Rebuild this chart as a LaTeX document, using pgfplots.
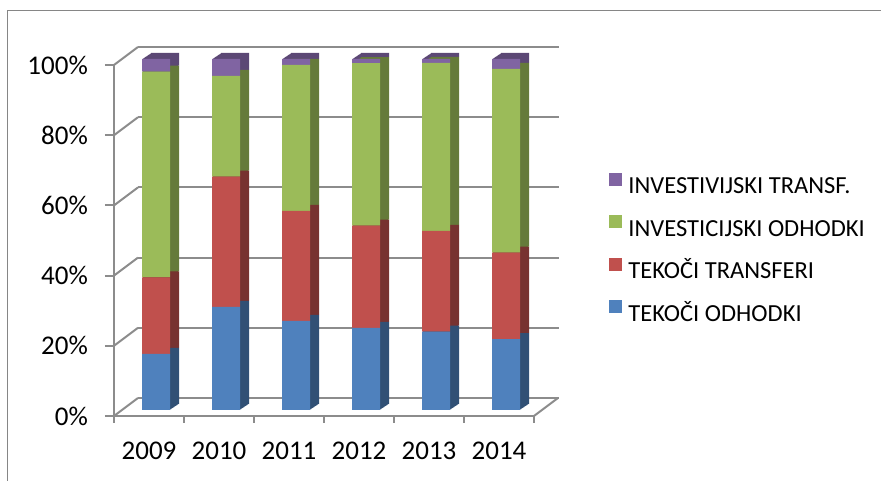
\documentclass[border=0pt]{standalone}
\usepackage{pgfplots}
\pgfplotsset{compat=1.18}
\usepackage{pgfplotstable}
\usepackage{fontspec}
\setmainfont{Carlito}

\definecolor{cB}{HTML}{4F81BD}
\definecolor{cR}{HTML}{C0504D}
\definecolor{cG}{HTML}{9BBB59}
\definecolor{cP}{HTML}{8064A2}
\definecolor{cBs}{RGB}{49,80,117}
\definecolor{cRs}{RGB}{119,50,48}
\definecolor{cGs}{RGB}{101,122,58}
\definecolor{cPs}{RGB}{92,72,117}
\definecolor{gridc}{HTML}{8C8C8C}
\definecolor{framec}{HTML}{868686}

\pgfplotstableread{
year blue red green purple
0 16.0 21.8 58.6 3.6
1 29.4 37.1 28.7 4.8
2 25.4 31.3 41.6 1.7
3 23.4 29.1 46.3 1.2
4 22.3 28.7 47.9 1.1
5 20.2 24.6 52.4 2.8
}\datatable

\pgfplotsset{
  barbase/.style={scale only axis, width=420pt, height=351pt,
    xmin=-0.5, xmax=5.5, ymin=0, ymax=100, hide axis,
    ybar stacked, bar width=28pt, bar shift=0pt, clip=false,
    anchor=south west},
}

\begin{document}
\begin{tikzpicture}[x=1pt,y=1pt]
\path[use as bounding box] (0,0) rectangle (881,481);
\draw[framec, line width=1.5pt] (7.5,0) -- (7.5,470.3) -- (881,470.3);

% back wall gridlines
\begin{axis}[scale only axis, width=421pt, height=351pt, at={(138pt,83pt)},
  anchor=south west, xmin=0, xmax=1, ymin=0, ymax=100,
  ytick={0,20,40,60,80,100}, xtick=\empty, yticklabels={},
  ymajorgrids, grid style={gridc, line width=2pt},
  axis line style={draw=none}, major tick length=0pt]
\addplot[draw=none] coordinates {(0,0) (1,100)};
\end{axis}

% side faces (dark copies)
\foreach \k in {1,...,9}{
\begin{axis}[barbase, at={(121pt+\k pt,71pt+0.6667*\k pt)}]
\addplot[fill=cBs, draw=none] table[x=year,y=blue]{\datatable};
\addplot[fill=cRs, draw=none] table[x=year,y=red]{\datatable};
\addplot[fill=cGs, draw=none] table[x=year,y=green]{\datatable};
\addplot[fill=cPs, draw=none] table[x=year,y=purple]{\datatable};
\end{axis}
}

% front faces + legend
\begin{axis}[barbase, at={(121pt,71pt)},
  reverse legend,
  legend cell align=left,
  legend style={at={(1.1626,0.6766)}, anchor=north west, draw=none, fill=none,
    inner sep=0pt, row sep=21.5pt, column sep=6pt,
    font=\fontsize{24.5}{30}\selectfont,
    nodes={inner sep=0pt, text height=16pt, text depth=0pt}},
  legend image code/.code={\fill[#1] (0pt,0pt) rectangle (13pt,13pt);}]
\addplot[fill=cB, draw=none] table[x=year,y=blue]{\datatable};
\addlegendentry{TEKOČI ODHODKI}
\addplot[fill=cR, draw=none] table[x=year,y=red]{\datatable};
\addlegendentry{TEKOČI TRANSFERI}
\addplot[fill=cG, draw=none] table[x=year,y=green]{\datatable};
\addlegendentry{INVESTICIJSKI ODHODKI}
\addplot[fill=cP, draw=none] table[x=year,y=purple]{\datatable};
\addlegendentry{INVESTIVIJSKI TRANSF.}
\end{axis}

% front axis
\begin{axis}[scale only axis, width=420pt, height=351pt, at={(114pt,65pt)},
  anchor=south west, xmin=-0.5, xmax=5.5, ymin=0, ymax=100, clip=false,
  axis x line*=bottom, axis y line*=left,
  axis line style={gridc, line width=2pt},
  ytick={0,20,40,60,80,100},
  yticklabels={0\%,20\%,40\%,60\%,80\%,100\%},
  xtick={0,1,2,3,4,5},
  xticklabels={2009,2010,2011,2012,2013,2014},
  minor xtick={-0.5,0.5,1.5,2.5,3.5,4.5,5.5},
  tick align=outside, major tick length=9pt, minor tick length=7pt,
  tick style={gridc, line width=2pt},
  every major x tick/.style={draw=none},
  tick label style={font=\fontsize{27}{32}\selectfont},
  yticklabel style={inner sep=0pt, xshift=-17pt},
  xticklabel style={inner sep=0pt, yshift=-17pt}]
\addplot[draw=none] coordinates {(0,0) (1,100)};
\pgfplotsinvokeforeach{0,20,40,60,80,100}{
  \draw[gridc, line width=2pt] (axis cs:-0.5,#1) -- ++(24pt,18pt);
}
\draw[gridc, line width=2pt] (axis cs:5.5,0) -- ++(24pt,18pt);
\end{axis}
\end{tikzpicture}
\end{document}
